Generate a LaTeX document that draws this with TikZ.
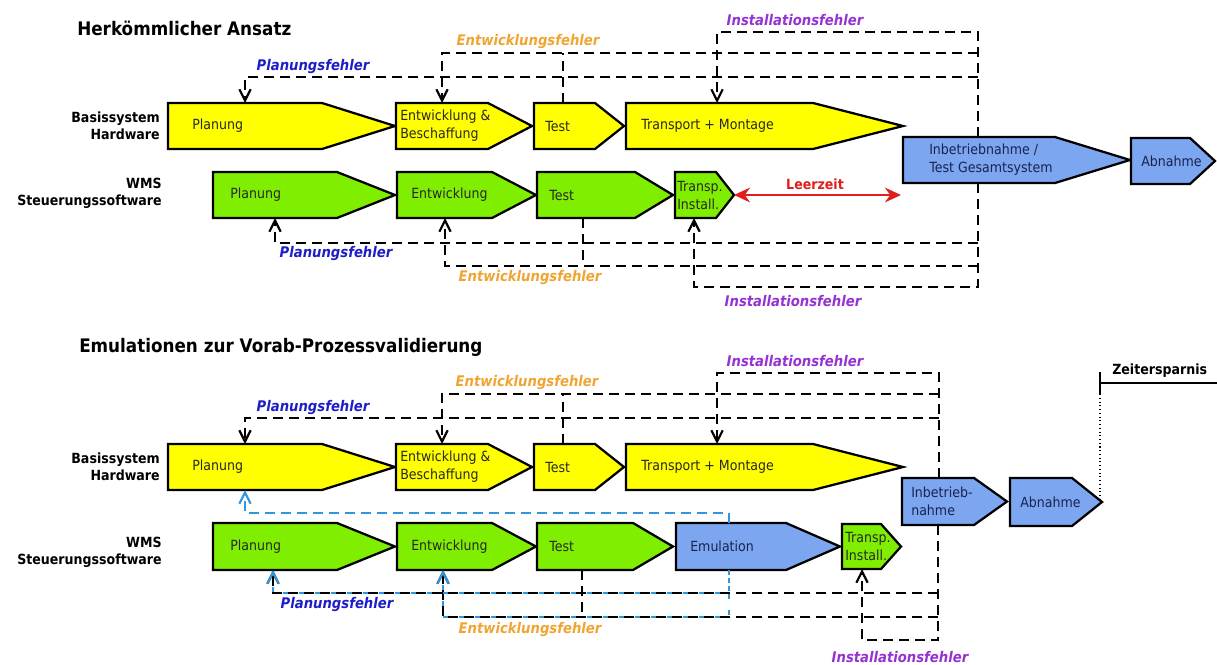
\documentclass[tikz,border=0pt]{standalone}
\usepackage{fontspec}
\setmainfont{DejaVu Sans}[FakeStretch=0.9]
\usetikzlibrary{arrows.meta}
\definecolor{hwY}{RGB}{255,255,0}
\definecolor{swG}{RGB}{128,238,0}
\definecolor{stB}{RGB}{125,166,240}
\definecolor{plBlue}{RGB}{30,30,200}
\definecolor{enOr}{RGB}{240,165,50}
\definecolor{inPu}{RGB}{150,50,210}
\definecolor{lzRed}{RGB}{225,30,30}
\definecolor{fbBlue}{RGB}{50,150,220}
\definecolor{txtK}{RGB}{40,40,40}
\definecolor{txtN}{RGB}{25,35,80}
\newcommand\stg[9]{%
  \draw[stgline,#7] (#2,#5) -- (#3,#5) -- (#4,{(#5+#6)/2}) -- (#3,#6) -- (#2,#6) -- cycle;
  \node[btxt,#7T] (#1) at (#8,{(#5+#6)/2}) {#9};}
\begin{document}
\begin{tikzpicture}[x=0.75pt,y=-0.75pt,
  stgline/.style={draw=black,line width=1.7pt,line join=miter},
  yel/.style={fill=hwY}, grn/.style={fill=swG}, blu/.style={fill=stB},
  yelT/.style={text=txtK}, grnT/.style={text=txtK}, bluT/.style={text=txtN},
  btxt/.style={font=\fontsize{10.5}{13.5}\selectfont,anchor=west,inner sep=0pt,align=left},
  rowlbl/.style={font=\fontsize{10.5}{13}\selectfont\bfseries,anchor=east,align=right,inner sep=0pt},
  ttl/.style={font=\fontsize{14}{16}\selectfont\bfseries,anchor=west,inner sep=0pt},
  errlbl/.style={font=\fontsize{11}{13}\selectfont\bfseries\itshape,inner sep=0pt},
  fb/.style={draw=black,line width=1.6pt,dash pattern=on 7.5pt off 4.5pt},
  fbb/.style={draw=fbBlue,line width=1.6pt,dash pattern=on 7.5pt off 4.5pt},
  fbs/.style={draw=fbBlue,line width=1.6pt,dash pattern=on 4pt off 8pt},
  arr/.style={-{Straight Barb[length=8.5pt,width=8.5pt]}},
]
\useasboundingbox (0,0) rectangle (1217,664);
\fill[white] (0,0) rectangle (1217,664);

% ---------- titles ----------
\node[ttl] (t1) at (77,28) {Herkömmlicher Ansatz};
\node[ttl] (t2) at (79,347) {Emulationen zur Vorab-Prozessvalidierung};

% ---------- row labels ----------
\node[rowlbl] (r1) at (160,126) {Basissystem\\Hardware};
\node[rowlbl] (r2) at (162,193) {WMS\\Steuerungssoftware};
\node[rowlbl] (r3) at (160,467) {Basissystem\\Hardware};
\node[rowlbl] (r4) at (162,552) {WMS\\Steuerungssoftware};

% ---------- top section stages ----------
\stg{hwPlan}{168}{322}{395}{103}{149}{yel}{192}{Planung}
\stg{hwEnt}{396}{488}{532}{103}{149}{yel}{400}{Entwicklung \&\\Beschaffung}
\stg{hwTest}{534}{595}{624}{103}{149}{yel}{545}{Test}
\stg{hwTrans}{626}{813}{903}{103}{149}{yel}{641}{Transport + Montage}
\stg{ibn}{903}{1055}{1130}{137}{183}{blu}{929}{Inbetriebnahme /\\Test Gesamtsystem}
\stg{abn}{1131}{1190}{1215}{138}{184}{blu}{1141}{Abnahme}
\stg{swPlan}{213}{337}{395}{172}{218}{grn}{230}{Planung}
\stg{swEnt}{397}{492}{536}{172}{218}{grn}{411}{Entwicklung}
\stg{swTest}{537}{635}{673}{172}{218}{grn}{549}{Test}
\stg{swTI}{675}{716}{734}{172}{218}{grn}{677}{Transp.\\Install.}

% ---------- bottom section stages ----------
\stg{hwPlanB}{168}{322}{395}{444}{490}{yel}{192}{Planung}
\stg{hwEntB}{396}{488}{532}{444}{490}{yel}{400}{Entwicklung \&\\Beschaffung}
\stg{hwTestB}{534}{595}{624}{444}{490}{yel}{545}{Test}
\stg{hwTransB}{626}{813}{903}{444}{490}{yel}{641}{Transport + Montage}
\stg{ibnB}{902}{974}{1007}{478}{525}{blu}{911}{Inbetrieb-\\nahme}
\stg{abnB}{1010}{1072}{1102}{478}{526}{blu}{1020}{Abnahme}
\stg{swPlanB}{213}{337}{395}{523}{570}{grn}{230}{Planung}
\stg{swEntB}{397}{492}{536}{523}{570}{grn}{411}{Entwicklung}
\stg{swTestB}{537}{633}{673}{523}{570}{grn}{549}{Test}
\stg{emu}{676}{786}{840}{523}{570}{blu}{690}{Emulation}
\stg{swTIB}{842}{881}{901}{524}{569}{grn}{845}{Transp.\\Install.}

% ---------- coordinates ----------
\coordinate (ibnT) at (978,137);  \coordinate (ibnBt) at (978,183);
\coordinate (trT) at (717,103);   \coordinate (enT) at (442,103);
\coordinate (plT) at (245,103);   \coordinate (teT) at (563,103);
\coordinate (j53) at (978,53);    \coordinate (j77) at (978,77);
\coordinate (tiB) at (694,218);   \coordinate (seB) at (445,218);
\coordinate (spB) at (275,218);   \coordinate (stB) at (583,218);
\coordinate (j243) at (978,243);  \coordinate (j266) at (978,266);
\coordinate (tiP) at (734,195);   \coordinate (lzE) at (901,195);

\coordinate (ibn2T) at (939,478); \coordinate (ibn2B) at (938,525);
\coordinate (trT2) at (717,444);  \coordinate (enT2) at (442,444);
\coordinate (plT2) at (245,444);  \coordinate (teT2) at (563,444);
\coordinate (j394) at (939,394);  \coordinate (j418) at (939,418);
\coordinate (hp2B) at (245,490);  \coordinate (emT) at (729,523);
\coordinate (emB) at (729,570);
\coordinate (ti2B) at (862,569);  \coordinate (se2B) at (443,570);
\coordinate (sp2B) at (273,570);  \coordinate (st2B) at (582,570);
\coordinate (j593) at (938,593);  \coordinate (j617) at (938,617);
\coordinate (zs) at (1100,383);   \coordinate (zsE) at (1217,383);
\coordinate (zsT) at (1100,372);  \coordinate (zsB) at (1100,395);
\coordinate (ab2P) at (1100,502);

% ---------- top section feedback ----------
\draw[fb,arr] (ibnT) -- (978,32) -| (trT);
\draw[fb,arr] (j53) -| (enT);
\draw[fb,arr] (j77) -| (plT);
\draw[fb] (teT) -- (563,53);

\draw[fb,arr] (ibnBt) -- (978,287) -| (tiB);
\draw[fb,arr] (j266) -| (seB);
\draw[fb,arr] (j243) -| (spB);
\draw[fb] (stB) -- (583,266);

\node[errlbl,text=inPu] (l1) at (795,20) {Installationsfehler};
\node[errlbl,text=enOr] (l2) at (528,42) {Entwicklungsfehler};
\node[errlbl,text=plBlue] (l3) at (313,67) {Planungsfehler};
\node[errlbl,text=plBlue] (l4) at (336,254) {Planungsfehler};
\node[errlbl,text=enOr] (l5) at (530,278) {Entwicklungsfehler};
\node[errlbl,text=inPu] (l6) at (793,301) {Installationsfehler};

\draw[lzRed,line width=1.8pt,{Stealth[length=12pt,width=11pt]}-{Stealth[length=12pt,width=11pt]}] (tiP) -- (lzE);
\node[font=\fontsize{10.5}{12}\selectfont\bfseries,text=lzRed,inner sep=0pt] (lz) at (815,184) {Leerzeit};

% ---------- bottom section feedback ----------
\draw[fb,arr] (ibn2T) -- (939,373) -| (trT2);
\draw[fb,arr] (j394) -| (enT2);
\draw[fb,arr] (j418) -| (plT2);
\draw[fb] (teT2) -- (563,394);

\draw[fbb,arr] (emT) -- (729,513) -| (hp2B);

\draw[fb,arr] (ibn2B) -- (938,640) -| (ti2B);
\draw[fb,arr] (j617) -| (se2B);
\draw[fb,arr] (j593) -| (sp2B);
\draw[fb] (st2B) -- (582,617);
\draw[fbs,arr,dash phase=0.25pt] (emB) -- (729,593) -| (sp2B);
\draw[fbs,arr,dash phase=6.25pt] (emB) -- (729,617) -| (se2B);

\node[errlbl,text=inPu] (l7) at (795,361) {Installationsfehler};
\node[errlbl,text=enOr] (l8) at (527,383) {Entwicklungsfehler};
\node[errlbl,text=plBlue] (l9) at (313,408) {Planungsfehler};
\node[errlbl,text=plBlue] (l10) at (337,605) {Planungsfehler};
\node[errlbl,text=enOr] (l11) at (530,630) {Entwicklungsfehler};
\node[errlbl,text=inPu] (l12) at (900,657) {Installationsfehler};

% ---------- Zeitersparnis ----------
\draw[line width=1.4pt] (zsT) -- (zsB);
\draw[line width=1.4pt] (zs) -- (zsE);
\draw[line width=0.8pt,dotted] (zs) -- (ab2P);
\node[font=\fontsize{10.5}{12}\selectfont\bfseries,anchor=west,inner sep=0pt] (zt) at (1112,371) {Zeitersparnis};
\end{tikzpicture}
\end{document}
